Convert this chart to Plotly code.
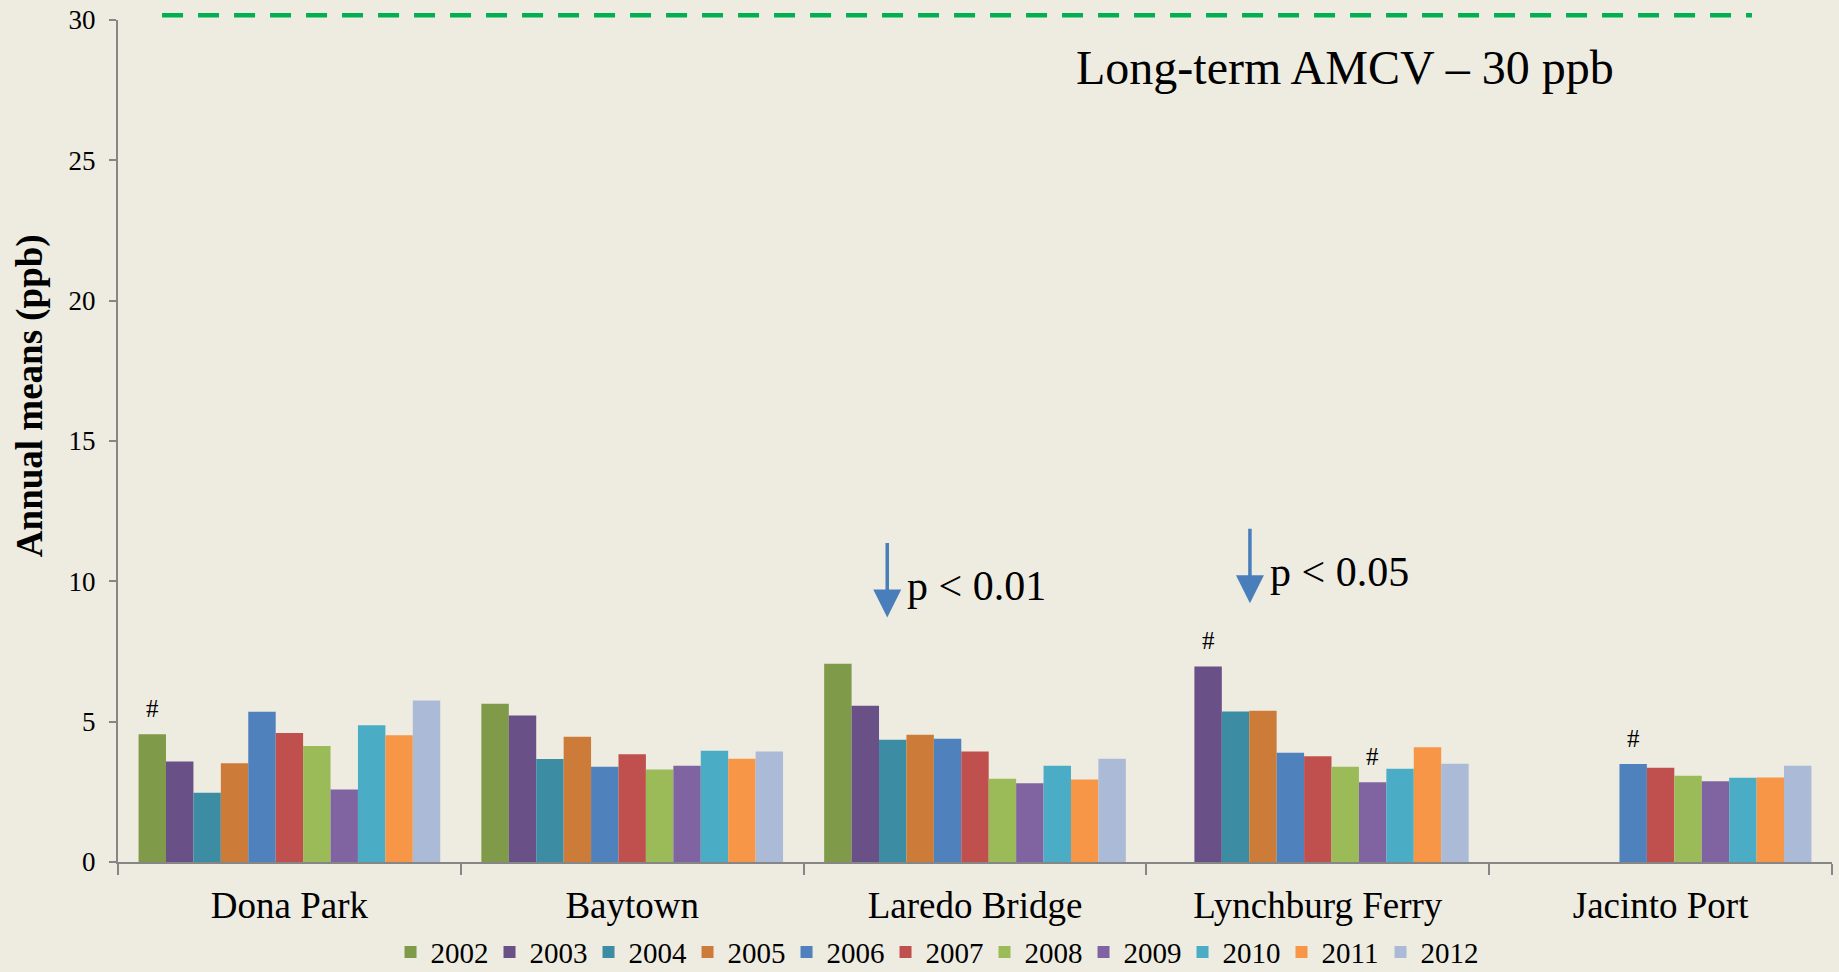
import plotly.graph_objects as go

sites = ["Dona Park", "Baytown", "Laredo Bridge", "Lynchburg Ferry", "Jacinto Port"]
years = ["2002", "2003", "2004", "2005", "2006", "2007", "2008", "2009", "2010", "2011", "2012"]

# annual means (ppb), one list per year across the sites
y2002 = [4.55, 5.64, 7.06, None, None]
y2003 = [3.58, 5.22, 5.57, 6.97, None]
y2004 = [2.47, 3.67, 4.36, 5.36, None]
y2005 = [3.52, 4.46, 4.53, 5.39, None]
y2006 = [5.35, 3.39, 4.39, 3.89, 3.49]
y2007 = [4.60, 3.84, 3.94, 3.77, 3.36]
y2008 = [4.13, 3.30, 2.97, 3.39, 3.07]
y2009 = [2.58, 3.43, 2.81, 2.84, 2.88]
y2010 = [4.87, 3.96, 3.43, 3.32, 3.00]
y2011 = [4.52, 3.68, 2.94, 4.09, 3.01]
y2012 = [5.75, 3.94, 3.68, 3.50, 3.43]
series = [y2002, y2003, y2004, y2005, y2006, y2007, y2008, y2009, y2010, y2011, y2012]

colors = ["#7F9A48", "#695086", "#3C8CA4", "#CD7B38", "#4F81BD", "#C0504D",
          "#9BBB59", "#8064A2", "#4BACC6", "#F79646", "#AABAD7"]

# bars marked with "#"
flags = [("Dona Park", "2002"), ("Lynchburg Ferry", "2003"),
         ("Lynchburg Ferry", "2009"), ("Jacinto Port", "2006")]

amcv = 30
# trend arrows: label, arrow x, head y, tail y, label y
trends = [("p < 0.01", 1.744, 8.71, 11.42, 9.85),
          ("p < 0.05", 2.802, 9.22, 11.93, 10.35)]

FONT = "Liberation Serif"
BG = "#EEECE1"
bargap = 0.12

fig = go.Figure()
for yr, vals, c in zip(years, series, colors):
    fig.add_trace(go.Bar(x=sites, y=vals, name=yr, marker_color=c,
                         marker_line_width=0))

# long-term AMCV line (drawn just over the top of the axis)
fig.add_shape(type="line", xref="paper", yref="paper", x0=0.0257, x1=0.9533,
              y0=1.0057, y1=1.0057, line=dict(color="#00B050", width=4.5, dash="21px,15px"))
fig.add_annotation(xref="paper", yref="y", x=0.716, y=28.3, xanchor="center",
                   text="Long-term AMCV \u2013 %d ppb" % amcv, showarrow=False,
                   font=dict(family=FONT, size=48, color="black"))

# "#" marks above flagged bars
w = (1 - bargap) / len(years)
for site, yr in flags:
    si = sites.index(site)
    yi = years.index(yr)
    fig.add_annotation(x=si + (yi - (len(years) - 1) / 2) * w, y=series[yi][si],
                       text="#", showarrow=False, yshift=26,
                       font=dict(family=FONT, size=25, color="black"))

# trend arrows
for label, ax_, head, tail, ly in trends:
    fig.add_annotation(x=ax_, y=head, ax=ax_, ay=tail, axref="x", ayref="y",
                       showarrow=True, arrowhead=2, arrowsize=1.6, arrowwidth=3.5,
                       arrowcolor="#4A7EBB", text="")
    fig.add_annotation(x=ax_, y=ly, text=label, showarrow=False, xanchor="left",
                       xshift=18, font=dict(family=FONT, size=42, color="black"))

# y axis title
fig.add_annotation(xref="paper", yref="y", x=-0.0513, y=16.6, textangle=-90,
                   xanchor="center", yanchor="middle",
                   text="<b>Annual means (ppb)</b>", showarrow=False,
                   font=dict(family=FONT, size=37, color="black"))

fig.update_layout(
    width=1839, height=972,
    margin=dict(l=118, r=7, t=19.5, b=110.4, autoexpand=False),
    paper_bgcolor=BG, plot_bgcolor=BG,
    barmode="group", bargap=bargap, bargroupgap=0,
    font=dict(family=FONT, color="black"),
    showlegend=True,
    legend=dict(orientation="h", x=0.159, xanchor="left", y=-0.107, yanchor="middle",
                font=dict(family=FONT, size=29), entrywidth=54, entrywidthmode="pixels",
                bgcolor="rgba(0,0,0,0)", itemclick=False),
)
fig.update_xaxes(showline=True, linecolor="#868686", linewidth=2, automargin=False,
                 ticks="outside", tickson="boundaries", ticklen=11, tickcolor="#868686",
                 tickwidth=2, tickfont=dict(family=FONT, size=37, color="black"),
                 ticklabelstandoff=10, showgrid=False, zeroline=False)
fig.update_yaxes(range=[0, 30], dtick=5, showline=True, linecolor="#868686", linewidth=2,
                 automargin=False,
                 ticks="outside", ticklen=7, tickcolor="#868686", tickwidth=2,
                 tickfont=dict(family=FONT, size=27, color="black"),
                 ticklabelstandoff=8, showgrid=False, zeroline=False)

fig.write_html("out.html", config={"displayModeBar": False},
               post_script="document.body.style.margin='0';")
